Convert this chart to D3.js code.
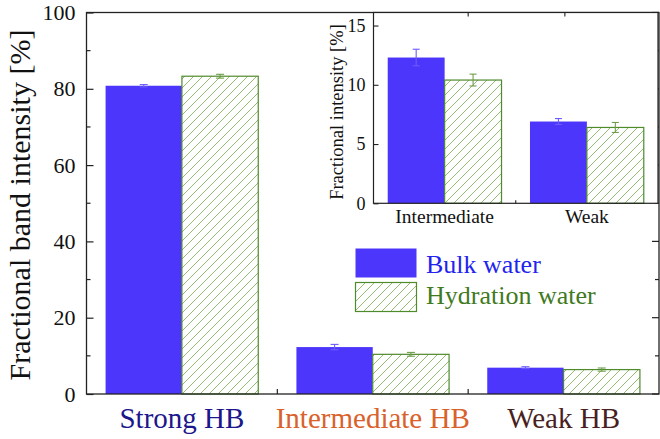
<!DOCTYPE html>
<html><head><meta charset="utf-8">
<script src="https://cdn.jsdelivr.net/npm/d3@7"></script>
<style>html,body{margin:0;padding:0;background:#fff;} svg{display:block;}</style>
</head><body>
<svg id="chart" width="660" height="439" font-family="Liberation Serif"></svg>
<script>
const categories = ["Strong HB", "Intermediate HB", "Weak HB"];
const categoryColors = ["#1c168c", "#d9622b", "#4a1f1f"];
const series = ["Bulk water", "Hydration water"];
const bulkValues = [80.8, 12.3, 6.9];
const bulkErrors = [0.3, 0.7, 0.25];
const hydrationValues = [83.3, 10.4, 6.4];
const hydrationErrors = [0.5, 0.5, 0.42];
const yTicks = [0, 20, 40, 60, 80, 100];
const yMinorTicks = [10, 30, 50, 70, 90];
const insetCategories = ["Intermediate", "Weak"];
const insetBulk = [12.3, 6.9];
const insetBulkErr = [0.7, 0.25];
const insetHydration = [10.4, 6.4];
const insetHydrationErr = [0.5, 0.42];
const insetTicks = [0, 5, 10, 15];

const FONT = '"Liberation Serif"';
const BLUE = "#4c36fb", GREEN = "#4f8a2b", HATCH = "#93bb74";
const svg = d3.select("#chart");
const defs = svg.append("defs");
const pat = defs.append("pattern").attr("id","hatch").attr("patternUnits","userSpaceOnUse")
  .attr("width",9).attr("height",9);
pat.append("rect").attr("width",9).attr("height",9).attr("fill","#fff");
pat.append("path").attr("d","M0,9 L9,0 M-1,1 L1,-1 M8,10 L10,8")
  .attr("stroke",HATCH).attr("stroke-width",1).attr("fill","none");

function serif(sel){ return sel.attr("font-family","Liberation Serif").style("font-family",FONT); }

function drawPanel(g, opts){
  const {x, y, cats, bulk, bulkErr, hyd, hydErr, capW} = opts;
  const x1 = d3.scaleBand().domain(series).range([x.bandwidth()*0.1, x.bandwidth()*0.9]);
  const rows = [];
  cats.forEach((c,i)=>{
    rows.push({c, s:series[0], v:bulk[i], e:bulkErr[i]});
    rows.push({c, s:series[1], v:hyd[i], e:hydErr[i]});
  });
  g.selectAll("rect.bar").data(rows).join("rect").attr("class","bar")
    .attr("x", d=>x(d.c)+x1(d.s)).attr("width", x1.bandwidth())
    .attr("y", d=>y(d.v)).attr("height", d=>y(0)-y(d.v))
    .attr("fill", d=>d.s===series[0]?BLUE:"url(#hatch)")
    .attr("stroke", d=>d.s===series[0]?"none":GREEN)
    .attr("stroke-width", 1.2);
  const eb = g.selectAll("g.err").data(rows).join("g").attr("class","err")
    .attr("stroke", d=>d.s===series[0]?"#6b5cff":"#6f9d4c").attr("stroke-width",1.1);
  eb.append("line").attr("x1",d=>x(d.c)+x1(d.s)+x1.bandwidth()/2).attr("x2",d=>x(d.c)+x1(d.s)+x1.bandwidth()/2)
    .attr("y1",d=>y(d.v+d.e)).attr("y2",d=>y(d.v-d.e));
  [1,-1].forEach(sg=>{
    eb.append("line").attr("x1",d=>x(d.c)+x1(d.s)+x1.bandwidth()/2-capW/2).attr("x2",d=>x(d.c)+x1(d.s)+x1.bandwidth()/2+capW/2)
      .attr("y1",d=>y(d.v+sg*d.e)).attr("y2",d=>y(d.v+sg*d.e));
  });
}

// ---------- main ----------
const M = {left:86.5, right:659, top:12.5, bottom:394};
const x = d3.scaleBand().domain(categories).range([M.left, M.right]).padding(0);
const y = d3.scaleLinear().domain([0,100]).range([M.bottom, M.top]);
const main = svg.append("g");
drawPanel(main, {x, y, cats:categories, bulk:bulkValues, bulkErr:bulkErrors, hyd:hydrationValues, hydErr:hydrationErrors, capW:8});

main.append("rect").attr("x",M.left).attr("y",M.top).attr("width",M.right-M.left).attr("height",M.bottom-M.top)
  .attr("fill","none").attr("stroke","#222").attr("stroke-width",1.3);
const yAxisL = d3.axisLeft(y).tickValues(yTicks).tickSize(-7).tickPadding(11).tickFormat(d3.format("d"));
const gl = main.append("g").attr("transform",`translate(${M.left},0)`).call(yAxisL);
gl.attr("font-family","Liberation Serif");
gl.select(".domain").remove();
serif(gl.selectAll("text").attr("font-size",22).attr("fill","#111"));
gl.selectAll("line").attr("stroke","#222").attr("stroke-width",1.2);
main.append("g").selectAll("line").data(yMinorTicks).join("line")
  .attr("x1",M.left).attr("x2",M.left+4).attr("y1",d=>y(d)).attr("y2",d=>y(d)).attr("stroke","#222").attr("stroke-width",1.2);
main.append("g").selectAll("line").data(yTicks.concat(yMinorTicks)).join("line")
  .attr("x1",M.right).attr("x2",d=>M.right-(yTicks.includes(d)?7:4)).attr("y1",d=>y(d)).attr("y2",d=>y(d))
  .attr("stroke","#222").attr("stroke-width",1.2);
const bounds = categories.slice(1).map(c=>x(c));
main.append("g").selectAll("line").data(bounds).join("line")
  .attr("x1",d=>d).attr("x2",d=>d).attr("y1",M.bottom).attr("y2",M.bottom-5).attr("stroke","#222").attr("stroke-width",1.2);
serif(main.append("g").selectAll("text").data(categories).join("text")
  .attr("x",d=>x(d)+x.bandwidth()/2).attr("y",428).attr("text-anchor","middle")
  .attr("font-size",29).attr("fill",(d,i)=>categoryColors[i]).text(d=>d));
serif(main.append("text").attr("transform",`translate(30,205) rotate(-90)`)
  .attr("text-anchor","middle").attr("font-size",30).attr("fill","#111").text("Fractional band intensity [%]"));

// ---------- inset ----------
const I = {left:373.5, right:658, top:12.5, bottom:203.3};
const xi = d3.scaleBand().domain(insetCategories).range([I.left, I.right]).padding(0);
const yi = d3.scaleLinear().domain([0,16.1]).range([I.bottom, I.top]);
const inset = svg.append("g");
inset.append("rect").attr("x",I.left).attr("y",I.top).attr("width",I.right-I.left).attr("height",I.bottom-I.top).attr("fill","#fff");
drawPanel(inset, {x:xi, y:yi, cats:insetCategories, bulk:insetBulk, bulkErr:insetBulkErr, hyd:insetHydration, hydErr:insetHydrationErr, capW:7});
inset.append("rect").attr("x",I.left).attr("y",I.top).attr("width",I.right-I.left).attr("height",I.bottom-I.top)
  .attr("fill","none").attr("stroke","#222").attr("stroke-width",1.2);
const yAxisI = d3.axisLeft(yi).tickValues(insetTicks).tickSize(-5).tickPadding(8).tickFormat(d3.format("d"));
const gi = inset.append("g").attr("transform",`translate(${I.left},0)`).call(yAxisI);
gi.attr("font-family","Liberation Serif");
gi.select(".domain").remove();
serif(gi.selectAll("text").attr("font-size",18).attr("fill","#111"));
gi.selectAll("line").attr("stroke","#222").attr("stroke-width",1.1);
inset.append("line").attr("x1",xi(insetCategories[1])).attr("x2",xi(insetCategories[1]))
  .attr("y1",I.bottom).attr("y2",I.bottom-3).attr("stroke","#222").attr("stroke-width",1.1);
serif(inset.append("g").selectAll("text").data(insetCategories).join("text")
  .attr("x",d=>xi(d)+xi.bandwidth()/2).attr("y",222.5).attr("text-anchor","middle")
  .attr("font-size",19.5).attr("fill","#111").text(d=>d));
serif(inset.append("text").attr("transform",`translate(343,112) rotate(-90)`)
  .attr("text-anchor","middle").attr("font-size",18.5).attr("fill","#111").text("Fractional intensity [%]"));
svg.append("g").selectAll("line").data([x(categories[2]), xi(insetCategories[1])+xi.bandwidth()/2 - 22]).join("line")
  .attr("x1",d=>d).attr("x2",d=>d).attr("y1",M.top).attr("y2",M.top+4).attr("stroke","#222").attr("stroke-width",1.1);

// ---------- legend ----------
const legend = svg.append("g");
const legendColors = ["#2323f0", "#3f7a1e"];
legend.selectAll("rect").data(series).join("rect")
  .attr("x",355.5).attr("y",(d,i)=>248.5+i*34).attr("width",61).attr("height",29)
  .attr("fill",(d,i)=>i===0?BLUE:"url(#hatch)").attr("stroke",(d,i)=>i===0?"none":GREEN).attr("stroke-width",1.2);
serif(legend.selectAll("text").data(series).join("text")
  .attr("x",426).attr("y",(d,i)=>272.5+i*31).attr("font-size",26)
  .attr("fill",(d,i)=>legendColors[i]).text(d=>d));
</script>
</body></html>
